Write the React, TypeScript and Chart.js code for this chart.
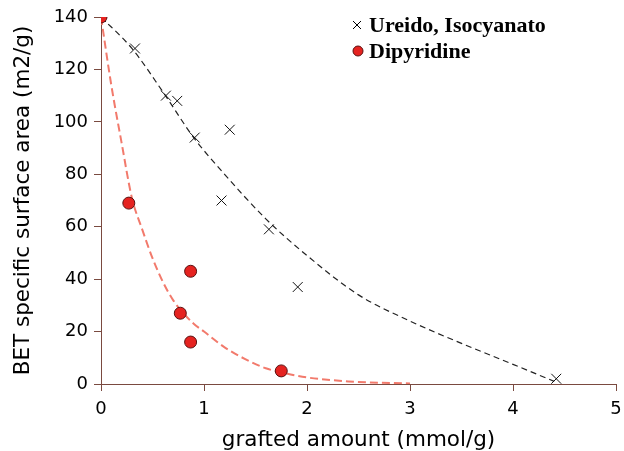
import React, { useEffect, useRef } from "react";
import { Chart, registerables } from "chart.js";

Chart.register(...registerables);

const seriesLabels = ["Ureido, Isocyanato", "Dipyridine"];

const crossX = [0, 0.33, 0.63, 0.74, 0.91, 1.25, 1.17, 1.63, 1.91, 4.42];
const crossY = [140, 128, 110, 108, 94, 97, 70, 59, 37, 2];

const dotX = [0, 0.27, 0.87, 0.77, 0.87, 1.75];
const dotY = [140, 69, 43, 27, 16, 5];

const fitBlackX = [0, 0.3, 0.6, 0.9, 1.2, 1.6, 2.0, 2.5, 3.0, 3.5, 4.0, 4.4];
const fitBlackY = [140, 128, 111.5, 94, 80, 63, 49, 34, 24, 15.5, 7.5, 1];

const fitRedX = [0, 0.1, 0.2, 0.3, 0.4, 0.5, 0.6, 0.7, 0.8, 0.9, 1.0, 1.2, 1.4, 1.6, 1.8, 2.0, 2.4, 3.0];
const fitRedY = [140, 114, 92, 71, 59, 48, 39, 32, 27, 23, 20, 14, 9.5, 6, 4, 2.5, 1, 0.2];

const xTicks = [0, 1, 2, 3, 4, 5];
const yTicks = [0, 20, 40, 60, 80, 100, 120, 140];

const toPts = (xs: number[], ys: number[]) => xs.map((x, i) => ({ x, y: ys[i] }));

const AXIS = "#7a4a40";
const RED = "#e52320";

const legendPlugin = {
  id: "customLegend",
  afterDatasetsDraw(chart: any) {
    const ctx = chart.ctx;
    ctx.save();
    ctx.font = "bold 22px 'Liberation Serif'";
    ctx.fillStyle = "#000";
    ctx.textBaseline = "middle";
    ctx.textAlign = "left";
    const cx = 357, cy1 = 25;
    ctx.strokeStyle = "#000";
    ctx.lineWidth = 1;
    ctx.beginPath();
    ctx.moveTo(cx - 4, cy1 - 4);
    ctx.lineTo(cx + 4, cy1 + 4);
    ctx.moveTo(cx + 4, cy1 - 4);
    ctx.lineTo(cx - 4, cy1 + 4);
    ctx.stroke();
    ctx.fillText(seriesLabels[0], 369, cy1 + 1);
    const cy2 = 51;
    ctx.beginPath();
    ctx.arc(cx + 1, cy2, 5, 0, Math.PI * 2);
    ctx.fillStyle = RED;
    ctx.fill();
    ctx.strokeStyle = "#5a1010";
    ctx.stroke();
    ctx.fillStyle = "#000";
    ctx.fillText(seriesLabels[1], 369, cy2 + 1);
    ctx.restore();
  },
};

export default function App() {
  const ref = useRef<HTMLCanvasElement | null>(null);
  useEffect(() => {
    if (!ref.current) return;
    const chart = new Chart(ref.current, {
      type: "scatter",
      data: {
        datasets: [
          {
            label: seriesLabels[1],
            data: toPts(dotX, dotY),
            pointStyle: "circle",
            pointRadius: 6,
            backgroundColor: RED,
            borderColor: "#5a1010",
            borderWidth: 1,
            order: 0,
          } as any,
          {
            label: seriesLabels[0],
            data: toPts(crossX, crossY),
            pointStyle: "crossRot",
            pointRadius: 7,
            borderColor: "#111",
            borderWidth: 1,
            order: 1,
          },
          {
            label: "fit1",
            type: "line",
            data: toPts(fitBlackX, fitBlackY),
            showLine: true,
            borderColor: "#222",
            borderWidth: 1.2,
            borderDash: [6, 4],
            pointRadius: 0,
            fill: false,
            cubicInterpolationMode: "monotone",
            order: 2,
          } as any,
          {
            label: "fit2",
            type: "line",
            data: toPts(fitRedX, fitRedY),
            showLine: true,
            borderColor: "#f27a6c",
            borderWidth: 2,
            borderDash: [8, 4],
            pointRadius: 0,
            fill: false,
            cubicInterpolationMode: "monotone",
            order: 3,
          } as any,
        ],
      },
      options: {
        animation: false,
        responsive: false,
        maintainAspectRatio: false,
        layout: { padding: { top: 17, right: 7, left: 0, bottom: 0 } },
        plugins: { legend: { display: false }, tooltip: { enabled: false } },
        scales: {
          x: {
            type: "linear",
            min: 0,
            max: 5,
            afterBuildTicks: (s: any) => {
              s.ticks = xTicks.map((v) => ({ value: v }));
            },
            afterFit: (s: any) => {
              s.height = 67;
              s.paddingRight = 0;
              s.paddingLeft = 0;
            },
            grid: { drawOnChartArea: false, color: AXIS, tickLength: 7, lineWidth: 1 },
            border: { color: AXIS, width: 1 },
            ticks: {
              color: "#000",
              font: { family: "DejaVu Sans", size: 18 },
              padding: 8,
            },
            title: {
              display: true,
              text: "grafted amount (mmol/g)",
              color: "#000",
              font: { family: "DejaVu Sans", size: 21.5, lineHeight: 1.0 },
              padding: { top: 0, bottom: 0 },
            },
          },
          y: {
            type: "linear",
            min: 0,
            max: 140,
            afterBuildTicks: (s: any) => {
              s.ticks = yTicks.map((v) => ({ value: v }));
            },
            afterFit: (s: any) => {
              s.width = 101;
            },
            grid: { drawOnChartArea: false, color: AXIS, tickLength: 7, lineWidth: 1 },
            border: { color: AXIS, width: 1 },
            ticks: {
              color: "#000",
              font: { family: "DejaVu Sans", size: 18 },
              padding: 6,
            },
            title: {
              display: true,
              text: "BET specific surface area (m2/g)",
              color: "#000",
              font: { family: "DejaVu Sans", size: 21.5 },
              padding: { top: 11, bottom: 0 },
            },
          },
        },
      },
      plugins: [legendPlugin],
    });
    return () => chart.destroy();
  }, []);
  return (
    <div style={{ position: "absolute", left: 0, top: 0, width: 624, height: 451, background: "#fff" }}>
      <canvas ref={ref} width={624} height={451} style={{ display: "block" }} />
    </div>
  );
}
